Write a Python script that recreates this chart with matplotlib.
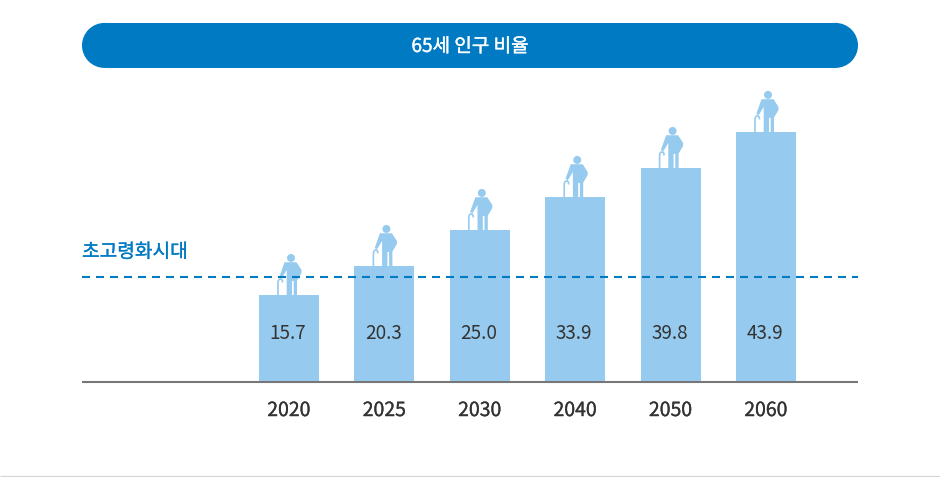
#!/usr/bin/env python3
"""65세 인구 비율: bars with a standing figure on top, dashed super-aged line."""
import matplotlib; matplotlib.use("Agg"); import matplotlib.pyplot as plt
from matplotlib.patches import Rectangle,Polygon,Circle,PathPatch
from matplotlib.path import Path
from matplotlib.transforms import Affine2D
import matplotlib.patheffects as pe
plt.rcParams["font.family"]=["Noto Sans CJK KR","DejaVu Sans"]

TITLE="65세 인구 비율"
LINE_LABEL="초고령화시대"
years=["2020","2025","2030","2040","2050","2060"]
value_labels=["15.7","20.3","25.0","33.9","39.8","43.9"]
# drawn heights are not proportional to the printed values, so read them separately
bar_heights=[87,116,152,185,214,250]
line_height=105

BLUE,BAR,INK="#007AC3","#96CBEF","#333333"
W,H=940,477
def heavy(w=0.2,c=INK): return [pe.withStroke(linewidth=w,foreground=c)]
# +0.001 or 4.77*100 floors to a 476 px canvas
fig=plt.figure(figsize=(W/100,H/100+0.001),dpi=100,facecolor="white")
# overlay in pixel coords for banner and bottom rule
bg=fig.add_axes([0,0,1,1]); bg.set_xlim(0,W); bg.set_ylim(H,0); bg.axis("off")
bg.add_patch(Rectangle((104.5,23),731,45,lw=0,fc=BLUE))
bg.add_patch(Circle((104.5,45.5),22.5,lw=0,fc=BLUE))
bg.add_patch(Circle((835.5,45.5),22.5,lw=0,fc=BLUE))
bg.text(470,46.5,TITLE,color="white",fontsize=13.7,ha="center",va="center",path_effects=heavy(0.25,"white"))
bg.plot([0,W],[476.5,476.5],color="#D5D5D5",lw=0.9,solid_capstyle="butt")

# 1 y unit = 1 px; x unit = one bar slot
slot=95.4
ax=fig.add_axes([82/W,1-382/H,776/W,300/H],facecolor="none")
ax.set_xlim((82-289)/slot,(858-289)/slot); ax.set_ylim(0,300)
xs=list(range(len(years)))
ax.bar(xs,bar_heights,width=60/slot,color=BAR,zorder=2)
for x,t in zip(xs,value_labels):
    ax.text(x-0.012,49,t,ha="center",va="center",fontsize=13.6,color=INK,zorder=5)
ax.set_xticks(xs,years,fontsize=14,color=INK,path_effects=heavy())
ax.tick_params(axis="x",length=0,pad=13); ax.set_yticks([])
for s in("top","left","right"): ax.spines[s].set_visible(False)
ax.spines["bottom"].set_color("#777777"); ax.spines["bottom"].set_linewidth(1.5); ax.spines["bottom"].set_capstyle("butt")
ax.set_axisbelow(False)

# standing figure, offsets in px from the bar's top centre (y up)
body=[(-4.5,32.7),(7.5,32.7),(12.5,25),(12.5,22),(8,14.3),(8,0),(4.7,0),(4.7,14),(3,14),(3,0),(-2.3,0),(-2.3,25),(-7.3,16.7),(-9.7,18)]
cane=Path([(-11,0),(-11,12),(-11,16),(-8.5,16),(-6.5,16),(-6.5,12.5)],[Path.MOVETO,Path.LINETO,Path.CURVE3,Path.CURVE3,Path.CURVE3,Path.CURVE3])
for x,v in zip(xs,bar_heights):
    tr=Affine2D().translate(*ax.transData.transform((x,v)))
    ax.add_patch(Polygon(body,closed=True,fc=BAR,ec="none",transform=tr,zorder=3))
    ax.add_patch(Circle((2,37),4,fc=BAR,ec="none",transform=tr,zorder=3))
    ax.add_patch(PathPatch(cane,fc="none",ec=BAR,lw=1.2,transform=tr,zorder=3))

ax.plot(ax.get_xlim(),[line_height,line_height],color=BLUE,lw=1.5,dashes=(3.84,2.88),zorder=4)
ax.text(ax.get_xlim()[0],119.5,LINE_LABEL,color=BLUE,fontsize=13.8,ha="left",va="bottom",path_effects=heavy(0.2,BLUE))
fig.savefig("out.png",dpi=100)
